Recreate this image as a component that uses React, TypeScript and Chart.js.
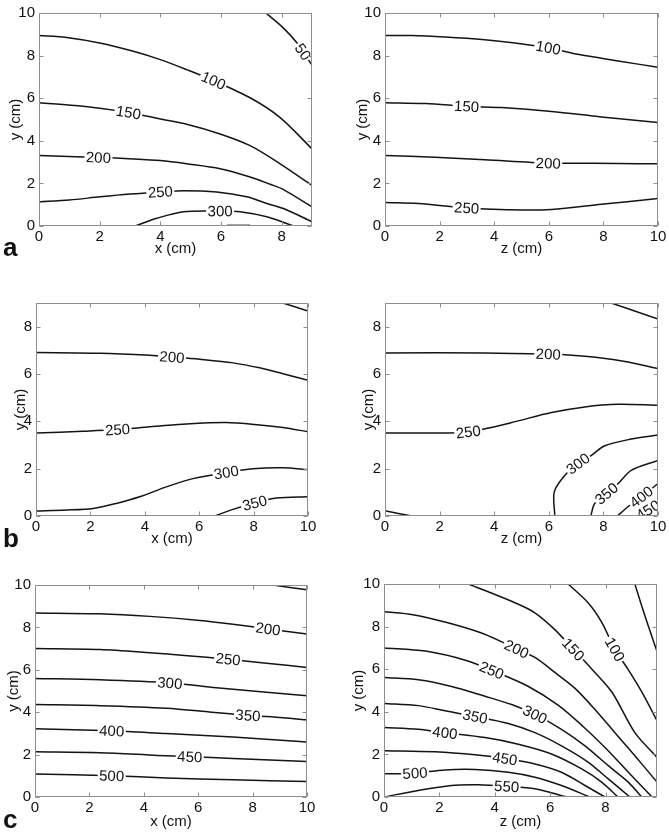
import React, { useEffect, useRef } from 'react';
import { Chart, registerables } from 'chart.js';

Chart.register(...registerables);

type Pt = [number, number];
type Contour = { level: number; pts: Pt[] };
type Label = { level: number; x: number };

// ---------- tick labels ----------
const ticksTo10 = [0, 2, 4, 6, 8, 10];
const ticksTo8 = [0, 2, 4, 6, 8];

// ---------- panel a (left): x (cm) vs y (cm) ----------
const aLeftLines: Contour[] = [
  { level: 50, pts: [[7.48, 10], [8.06, 9.29], [8.5, 8.6], [9, 7.55]] },
  { level: 100, pts: [[0, 8.94], [0.91, 8.85], [2.0, 8.59], [3.11, 8.2], [4, 7.81], [4.87, 7.34], [5.75, 6.83], [6.96, 6.02], [7.95, 5.09], [9, 3.62]] },
  { level: 150, pts: [[0, 5.79], [1.46, 5.62], [2.95, 5.33], [4, 5.02], [4.87, 4.78], [5.97, 4.32], [6.96, 3.77], [7.95, 2.92], [9, 1.91]] },
  { level: 200, pts: [[0, 3.31], [1.96, 3.22], [3.11, 3.15], [4, 3.07], [4.87, 2.92], [5.97, 2.69], [6.96, 2.3], [7.62, 1.96], [8.06, 1.71], [9, 0.9]] },
  { level: 250, pts: [[0, 1.13], [1, 1.22], [2.01, 1.37], [3, 1.5], [4, 1.6], [4.76, 1.66], [5.86, 1.6], [6.85, 1.37], [7.51, 1.06], [8.06, 0.82], [9, 0.2]] },
  { level: 300, pts: [[3.17, 0], [3.88, 0.36], [4.76, 0.67], [5.97, 0.7], [6.63, 0.67], [7.51, 0.43], [8.39, 0]] },
  { level: 350, pts: [[6.2, 0.03], [6.96, 0.03]] },
];
const aLeftLabels: Label[] = [
  { level: 50, x: 8.7 }, { level: 100, x: 5.75 }, { level: 150, x: 2.95 },
  { level: 200, x: 1.96 }, { level: 250, x: 4.0 }, { level: 300, x: 5.97 },
];

// ---------- panel a (right): z (cm) vs y (cm) ----------
const aRightLines: Contour[] = [
  { level: 100, pts: [[0, 8.94], [0.98, 8.94], [2.2, 8.87], [3.66, 8.74], [4.76, 8.59], [5.98, 8.37], [7.07, 8.06], [8.54, 7.75], [10, 7.45]] },
  { level: 150, pts: [[0, 5.79], [1.5, 5.75], [2.99, 5.62], [4.27, 5.56], [6.1, 5.38], [7.93, 5.12], [10, 4.86]] },
  { level: 200, pts: [[0, 3.31], [1.83, 3.23], [3.66, 3.11], [5.98, 2.95], [6.71, 2.95], [8.54, 2.93], [10, 2.92]] },
  { level: 250, pts: [[0, 1.1], [1.22, 1.06], [2.99, 0.85], [5, 0.75], [6.1, 0.78], [7.93, 1.02], [10, 1.29]] },
];
const aRightLabels: Label[] = [
  { level: 100, x: 5.98 }, { level: 150, x: 2.99 }, { level: 200, x: 5.98 }, { level: 250, x: 2.99 },
];

// ---------- panel b (left) ----------
const bLeftLines: Contour[] = [
  { level: 150, pts: [[9.08, 9], [10, 8.66]] },
  { level: 200, pts: [[0, 6.91], [2.34, 6.88], [4.18, 6.79], [4.98, 6.72], [6.02, 6.62], [7.24, 6.47], [8.22, 6.26], [9.08, 6.01], [10, 5.73]] },
  { level: 250, pts: [[0, 3.51], [1.73, 3.58], [3.01, 3.65], [4.18, 3.77], [5.4, 3.88], [6.99, 3.95], [8.22, 3.85], [9.08, 3.74], [10, 3.56]] },
  { level: 300, pts: [[0, 0.21], [1.12, 0.25], [2.1, 0.32], [2.95, 0.53], [3.81, 0.81], [4.79, 1.23], [5.77, 1.58], [6.99, 1.84], [7.98, 2.0], [9.08, 2.04], [10, 1.96]] },
  { level: 350, pts: [[6.57, 0], [7.24, 0.28], [8.04, 0.55], [8.84, 0.76], [10, 0.81]] },
];
const bLeftLabels: Label[] = [
  { level: 200, x: 5.0 }, { level: 250, x: 3.0 }, { level: 300, x: 7.0 }, { level: 350, x: 8.04 },
];

// ---------- panel b (right) ----------
const bRightLines: Contour[] = [
  { level: 150, pts: [[8.29, 9], [10, 8.32]] },
  { level: 200, pts: [[0, 6.89], [3.66, 6.89], [5.98, 6.84], [6.71, 6.8], [7.93, 6.68], [8.9, 6.51], [10, 6.23]] },
  { level: 250, pts: [[0, 3.51], [2.32, 3.51], [3.05, 3.55], [3.9, 3.74], [4.88, 4.02], [6.1, 4.37], [7.32, 4.61], [8.54, 4.72], [10, 4.68]] },
  { level: 300, pts: [[6.22, 0], [6.2, 1.02], [6.59, 1.72], [7.07, 2.21], [7.56, 2.56], [8.05, 2.97], [9.02, 3.25], [10, 3.42]] },
  { level: 350, pts: [[7.54, 0], [7.68, 0.53], [8.11, 0.95], [8.54, 1.37], [9.02, 1.93], [10, 2.35]] },
  { level: 400, pts: [[8.51, 0], [8.9, 0.39], [9.39, 0.81], [10, 1.37]] },
  { level: 450, pts: [[9.27, 0], [9.63, 0.25], [10, 0.53]] },
  { level: 260, pts: [[0, 0.22], [0.98, 0]] },
];
const bRightLabels: Label[] = [
  { level: 200, x: 5.98 }, { level: 250, x: 3.05 }, { level: 300, x: 7.07 },
  { level: 350, x: 8.11 }, { level: 400, x: 9.39 }, { level: 450, x: 9.63 },
];

// ---------- panel c (left) ----------
const cLeftLines: Contour[] = [
  { level: 150, pts: [[8.75, 10], [10, 9.77]] },
  { level: 200, pts: [[0, 8.68], [2.39, 8.64], [4.22, 8.52], [6.06, 8.33], [7.28, 8.15], [8.57, 7.93], [10, 7.69]] },
  { level: 250, pts: [[0, 7.01], [2.39, 6.96], [4.22, 6.81], [5.5, 6.68], [7.1, 6.5], [8.51, 6.31], [10, 6.11]] },
  { level: 300, pts: [[0, 5.59], [2.39, 5.53], [4.96, 5.38], [6.67, 5.15], [8.51, 4.94], [10, 4.78]] },
  { level: 350, pts: [[0, 4.36], [2.39, 4.31], [4.83, 4.19], [6.5, 4.0], [7.83, 3.85], [9.12, 3.74], [10, 3.64]] },
  { level: 400, pts: [[0, 3.22], [2.82, 3.12], [4.83, 2.99], [7.28, 2.83], [10, 2.6]] },
  { level: 450, pts: [[0, 2.13], [2.39, 2.09], [4.5, 1.96], [5.69, 1.9], [7.28, 1.82], [10, 1.67]] },
  { level: 500, pts: [[0, 1.09], [2.82, 1.0], [4.83, 0.9], [7.28, 0.81], [10, 0.73]] },
];
const cLeftLabels: Label[] = [
  { level: 200, x: 8.57 }, { level: 250, x: 7.1 }, { level: 300, x: 4.96 }, { level: 350, x: 7.83 },
  { level: 400, x: 2.82 }, { level: 450, x: 5.69 }, { level: 500, x: 2.82 },
];

// ---------- panel c (right) ----------
const cRightLines: Contour[] = [
  { level: 50, pts: [[9.06, 10], [9.45, 8.4], [9.86, 6.84]] },
  { level: 100, pts: [[6.65, 10], [7.37, 9.12], [7.87, 8.19], [8.34, 6.93], [8.81, 6.0], [9.31, 4.93], [9.86, 3.58]] },
  { level: 150, pts: [[3.05, 10], [4.73, 9.12], [5.45, 8.65], [6.17, 7.86], [6.84, 6.93], [7.51, 6.0], [8.23, 4.93], [9.06, 3.02], [9.86, 1.86]] },
  { level: 200, pts: [[0, 8.7], [1.05, 8.56], [2.27, 8.19], [3.47, 7.72], [4.3, 7.26], [4.79, 6.95], [5.45, 6.55], [6.17, 5.85], [6.9, 5.1], [7.62, 4.11], [8.34, 3.02], [9.06, 1.94], [9.86, 0.7]] },
  { level: 250, pts: [[0, 7.0], [1.5, 6.85], [3, 6.4], [3.89, 5.95], [5.2, 5.2], [6.3, 4.3], [7.2, 3.3], [8.0, 2.3], [8.8, 1.2], [9.68, 0]] },
  { level: 300, pts: [[0, 5.61], [1.24, 5.5], [2.44, 5.19], [3.65, 4.73], [4.61, 4.34], [5.45, 3.88], [6.41, 3.18], [7.26, 2.4], [8.1, 1.47], [8.82, 0.7], [9.31, 0]] },
  { level: 350, pts: [[0, 4.39], [1.24, 4.29], [2.2, 4.05], [3.29, 3.78], [4.49, 3.45], [5.45, 3.02], [6.41, 2.4], [7.38, 1.63], [8.1, 0.85], [8.88, 0]] },
  { level: 400, pts: [[0, 3.26], [1.24, 3.18], [2.2, 3.02], [3.65, 2.79], [4.85, 2.48], [6.05, 2.02], [7.14, 1.32], [7.86, 0.7], [8.45, 0]] },
  { level: 450, pts: [[0, 2.17], [1.84, 2.12], [3.29, 1.98], [4.37, 1.8], [5.45, 1.55], [6.41, 1.16], [7.26, 0.54], [7.98, 0]] },
  { level: 500, pts: [[0, 1.09], [1.12, 1.12], [2.2, 1.27], [3.29, 1.29], [4.49, 1.16], [5.45, 0.93], [6.41, 0.54], [7.44, 0]] },
  { level: 550, pts: [[0, 0], [1.24, 0.31], [2.44, 0.54], [3.41, 0.57], [4.43, 0.5], [5.45, 0.39], [6.6, 0]] },
];
const cRightLabels: Label[] = [
  { level: 100, x: 8.34 }, { level: 150, x: 6.84 }, { level: 200, x: 4.79 }, { level: 250, x: 3.89 },
  { level: 300, x: 5.45 }, { level: 350, x: 3.29 }, { level: 400, x: 2.2 }, { level: 450, x: 4.37 },
  { level: 500, x: 1.12 }, { level: 550, x: 4.43 },
];

// ---------- layout (positions / styles, kept apart from data) ----------
const FONT = '"Liberation Sans", Arial, Helvetica, sans-serif';
const FONT_SIZE = 15;
const LINE_COLOR = '#141414';
const FRAME_COLOR = '#8e8e8e';

interface PanelSpec {
  lines: Contour[]; labels: Label[];
  xMax: number; yMax: number; xTicks: number[]; yTicks: number[]; xTitle: string;
  L: number; T: number; R: number; B: number; yTitleX: number; xTitleY: number;
}

const panels: PanelSpec[] = [
  { lines: aLeftLines, labels: aLeftLabels, xMax: 9, yMax: 10, xTicks: ticksTo8, yTicks: ticksTo10, xTitle: 'x (cm)', L: 39, T: 11, R: 312, B: 226, yTitleX: 16, xTitleY: 249 },
  { lines: aRightLines, labels: aRightLabels, xMax: 10, yMax: 10, xTicks: ticksTo10, yTicks: ticksTo10, xTitle: 'z (cm)', L: 385, T: 11, R: 658, B: 226, yTitleX: 363, xTitleY: 249 },
  { lines: bLeftLines, labels: bLeftLabels, xMax: 10, yMax: 9, xTicks: ticksTo10, yTicks: ticksTo8, xTitle: 'x (cm)', L: 36, T: 301, R: 308, B: 516, yTitleX: 21, xTitleY: 539 },
  { lines: bRightLines, labels: bRightLabels, xMax: 10, yMax: 9, xTicks: ticksTo10, yTicks: ticksTo8, xTitle: 'z (cm)', L: 385, T: 301, R: 658, B: 516, yTitleX: 369, xTitleY: 539 },
  { lines: cLeftLines, labels: cLeftLabels, xMax: 10, yMax: 10, xTicks: ticksTo10, yTicks: ticksTo10, xTitle: 'x (cm)', L: 35, T: 583, R: 307, B: 797, yTitleX: 14, xTitleY: 822 },
  { lines: cRightLines, labels: cRightLabels, xMax: 9.86, yMax: 10, xTicks: ticksTo8, yTicks: ticksTo10, xTitle: 'z (cm)', L: 384, T: 582, R: 657, B: 797, yTitleX: 359, xTitleY: 822 },
];

const panelLetters = [
  { text: 'a', left: 3, top: 234 },
  { text: 'b', left: 3, top: 525 },
  { text: 'c', left: 3, top: 806 },
];

function Panel({ spec }: { spec: PanelSpec }) {
  const ref = useRef<HTMLCanvasElement | null>(null);
  const lh = FONT_SIZE * 1.2;
  const cl = Math.round(spec.yTitleX - lh / 2);
  const ct = spec.T - 11;
  const cr = spec.R + 13;
  const cb = Math.round(spec.xTitleY + lh / 2);
  const w = cr - cl;
  const h = cb - ct;
  const yAxisW = spec.L - cl;
  const xAxisH = cb - spec.B;

  useEffect(() => {
    const canvas = ref.current;
    if (!canvas) return;

    const deco = {
      id: 'contourDeco',
      afterDatasetsDraw(chart: any) {
        const { ctx, chartArea: a, scales } = chart;
        const xs = scales.x, ys = scales.y;
        ctx.save();
        ctx.beginPath();
        ctx.rect(a.left, a.top, a.right - a.left, a.bottom - a.top);
        ctx.clip();
        ctx.font = `${FONT_SIZE}px ${FONT}`;
        spec.labels.forEach((lb) => {
          const line = spec.lines.find((c) => c.level === lb.level);
          if (!line) return;
          const px = line.pts.map(([vx, vy]) => [xs.getPixelForValue(vx), ys.getPixelForValue(vy)]);
          const yAt = (tx: number) => {
            let i = 0;
            for (; i < px.length - 2; i++) {
              if ((px[i][0] - tx) * (px[i + 1][0] - tx) <= 0) break;
            }
            const [x0, y0] = px[i];
            const [x1, y1] = px[i + 1];
            const t = x1 === x0 ? 0.5 : (tx - x0) / (x1 - x0);
            return y0 + t * (y1 - y0);
          };
          const tx = xs.getPixelForValue(lb.x);
          const cy = yAt(tx);
          let ang = Math.atan2(yAt(tx + 5) - yAt(tx - 5), 10);
          if (ang > Math.PI / 2) ang -= Math.PI;
          if (ang < -Math.PI / 2) ang += Math.PI;
          const text = String(lb.level);
          const tw = ctx.measureText(text).width;
          ctx.save();
          ctx.translate(tx, cy);
          ctx.rotate(ang);
          ctx.fillStyle = '#ffffff';
          ctx.fillRect(-tw / 2 - 1.5, -5, tw + 3, 10);
          ctx.fillStyle = '#111111';
          ctx.textAlign = 'center';
          ctx.textBaseline = 'middle';
          ctx.fillText(text, 0, 1);
          ctx.restore();
        });
        ctx.restore();
      },
      afterDraw(chart: any) {
        const { ctx, chartArea: a, scales } = chart;
        const xs = scales.x, ys = scales.y;
        ctx.save();
        ctx.strokeStyle = FRAME_COLOR;
        ctx.lineWidth = 1;
        const l = Math.round(a.left) + 0.5, r = Math.round(a.right) - 0.5;
        const t = Math.round(a.top) + 0.5, b = Math.round(a.bottom) - 0.5;
        ctx.strokeRect(l, t, r - l, b - t);
        ctx.beginPath();
        spec.xTicks.forEach((v) => {
          const p = Math.round(xs.getPixelForValue(v)) + 0.5;
          ctx.moveTo(p, b); ctx.lineTo(p, b - 4);
          ctx.moveTo(p, t); ctx.lineTo(p, t + 4);
        });
        spec.yTicks.forEach((v) => {
          const p = Math.round(ys.getPixelForValue(v)) + 0.5;
          ctx.moveTo(l, p); ctx.lineTo(l + 4, p);
          ctx.moveTo(r, p); ctx.lineTo(r - 4, p);
        });
        ctx.stroke();
        ctx.restore();
      },
    };

    const tickFont = { family: FONT, size: FONT_SIZE };
    const chart = new Chart(canvas, {
      type: 'scatter',
      data: {
        datasets: spec.lines.map((c) => ({
          label: String(c.level),
          data: c.pts.map(([x, y]) => ({ x, y })),
          showLine: true,
          borderColor: LINE_COLOR,
          backgroundColor: LINE_COLOR,
          borderWidth: 1.5,
          pointRadius: 0,
          pointHoverRadius: 0,
          tension: 0.3,
          fill: false,
        })),
      },
      options: {
        responsive: false,
        maintainAspectRatio: false,
        animation: false,
        events: [],
        layout: { padding: { top: 11, right: 13, left: 0, bottom: 0 } },
        plugins: { legend: { display: false }, tooltip: { enabled: false } },
        scales: {
          x: {
            type: 'linear',
            min: 0,
            max: spec.xMax,
            afterBuildTicks: (s: any) => { s.ticks = spec.xTicks.map((v) => ({ value: v })); },
            afterFit: (s: any) => { s.height = xAxisH; },
            grid: { display: false, drawTicks: false },
            border: { display: false },
            ticks: { padding: 2, color: '#111', font: tickFont, autoSkip: false, maxRotation: 0, callback: (v: any) => String(v) },
            title: { display: true, text: spec.xTitle, color: '#111', font: tickFont, padding: 0 },
          },
          y: {
            type: 'linear',
            min: 0,
            max: spec.yMax,
            afterBuildTicks: (s: any) => { s.ticks = spec.yTicks.map((v) => ({ value: v })); },
            afterFit: (s: any) => { s.width = yAxisW; },
            grid: { display: false, drawTicks: false },
            border: { display: false },
            ticks: { padding: 4, color: '#111', font: tickFont, autoSkip: false, callback: (v: any) => String(v) },
            title: { display: true, text: 'y (cm)', color: '#111', font: tickFont, padding: 0 },
          },
        },
      },
      plugins: [deco],
    } as any);
    return () => chart.destroy();
  }, []);

  return (
    <canvas
      ref={ref}
      width={w}
      height={h}
      style={{ position: 'absolute', left: cl, top: ct, width: w, height: h }}
    />
  );
}

export default function App() {
  return (
    <div style={{ position: 'absolute', left: 0, top: 0, width: 669, height: 832, background: '#fff', overflow: 'hidden' }}>
      {panels.map((p, i) => <Panel key={i} spec={p} />)}
      {panelLetters.map((l) => (
        <div
          key={l.text}
          style={{
            position: 'absolute', left: l.left, top: l.top,
            fontFamily: FONT, fontWeight: 'bold', fontSize: 26, lineHeight: '26px', color: '#111',
          }}
        >
          {l.text}
        </div>
      ))}
    </div>
  );
}
